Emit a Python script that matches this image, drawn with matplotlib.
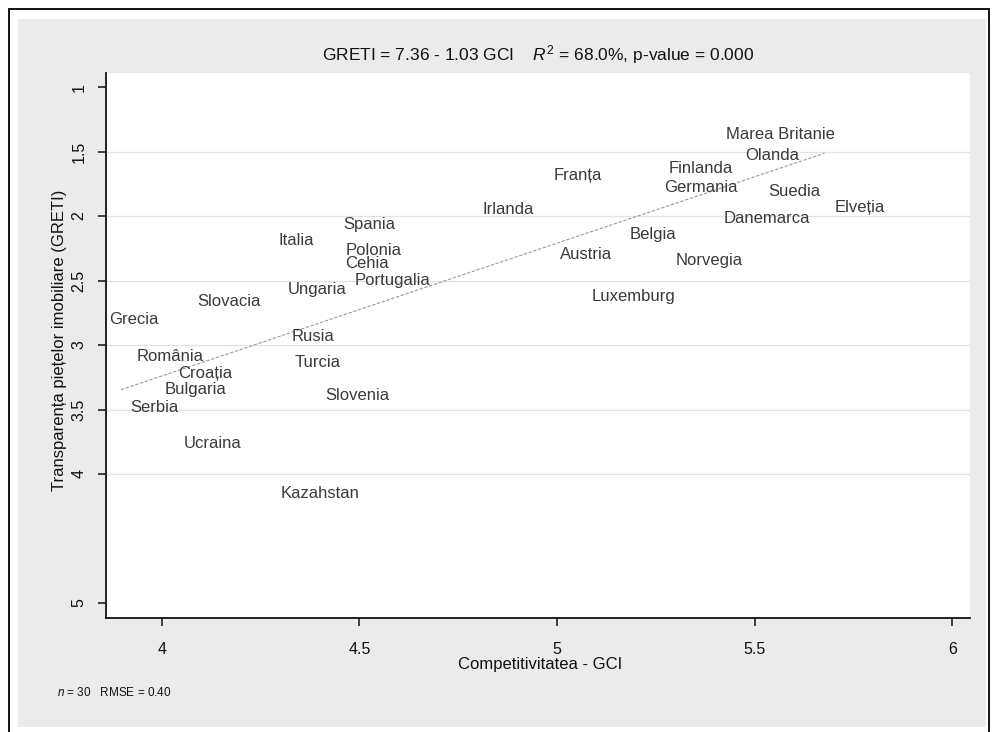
import numpy as np
import matplotlib.pyplot as plt
from matplotlib.patches import Rectangle

plt.rcParams['font.family'] = ['Liberation Sans', 'DejaVu Sans']
plt.rcParams['mathtext.fontset'] = 'custom'
plt.rcParams['mathtext.rm'] = 'Liberation Sans'
plt.rcParams['mathtext.it'] = 'Liberation Sans:italic'

# GCI (competitivitate) si GRETI (transparenta) pe tari
tari = ['Marea Britanie', 'Olanda', 'Franța', 'Finlanda', 'Germania', 'Suedia',
        'Elveția', 'Irlanda', 'Danemarca', 'Spania', 'Italia', 'Belgia',
        'Polonia', 'Austria', 'Cehia', 'Norvegia', 'Portugalia', 'Ungaria',
        'Luxemburg', 'Slovacia', 'Grecia', 'Rusia', 'România', 'Turcia',
        'Croația', 'Bulgaria', 'Slovenia', 'Serbia', 'Ucraina', 'Kazahstan']
gci = [5.403, 5.452, 4.967, 5.257, 5.246, 5.511,
       5.677, 4.788, 5.396, 4.434, 4.270, 5.158,
       4.441, 4.983, 4.439, 5.276, 4.464, 4.295,
       5.063, 4.066, 3.930, 4.305, 3.911, 4.312,
       4.017, 3.983, 4.390, 3.897, 4.032, 4.276]
greti = [1.364, 1.527, 1.682, 1.630, 1.781, 1.806,
         1.933, 1.948, 2.018, 2.062, 2.191, 2.142,
         2.264, 2.297, 2.367, 2.341, 2.502, 2.568,
         2.626, 2.664, 2.798, 2.936, 3.085, 3.134,
         3.219, 3.343, 3.395, 3.486, 3.762, 4.155]
# eticheta centrata pe punct (restul sunt la dreapta punctului)
centrate = ['Grecia']

const, panta = 7.36, -1.03
y_ticks = [1, 1.5, 2, 2.5, 3, 3.5, 4, 5]
y_grid = [1.5, 2, 2.5, 3, 3.5, 4]
x_ticks = [4, 4.5, 5, 5.5, 6]

W, H = 992, 732
fig = plt.figure(figsize=(W / 100, H / 100), dpi=100)
fig.patch.set_facecolor('white')

# chenar negru si fundalul gri al graficului
fig.add_artist(Rectangle((9 / W, -0.02), 980 / W, 1.02 - 9 / H, transform=fig.transFigure,
                         fill=False, edgecolor='black', lw=1.3, zorder=10))
fig.add_artist(Rectangle((18 / W, 5 / H), 968 / W, 1 - 24 / H, transform=fig.transFigure,
                         facecolor='#ebebeb', edgecolor='none', zorder=-5))

ax = fig.add_axes([106 / W, 1 - 618 / H, 864 / W, 545 / H])
ax.set_zorder(2)
ax.set_facecolor('white')
ax.set_xlim(3.859, 6.045)
ax.set_ylim(5.117, 0.89)

for s in ['top', 'right']:
    ax.spines[s].set_visible(False)
for s in ['left', 'bottom']:
    ax.spines[s].set_linewidth(1.3)
    ax.spines[s].set_color('#111111')

for g in y_grid:
    ax.axhline(g, color='#e2e2e2', lw=0.9, zorder=0)

ax.set_xticks(x_ticks)
ax.set_xticklabels([f'{v:g}' for v in x_ticks])
ax.set_yticks(y_ticks)
ax.set_yticklabels([f'{v:g}' for v in y_ticks], rotation=90, va='center')
ax.tick_params(axis='both', direction='out', length=6, width=1.1, labelsize=11.5,
               colors='#111111')
ax.tick_params(axis='x', pad=11)
ax.tick_params(axis='y', pad=8)

# dreapta de regresie pe intervalul datelor
xf = np.array([min(gci), max(gci)])
ax.plot(xf, const + panta * xf, color='#9a9a9a', lw=0.8, ls=(0, (3, 1.5)), zorder=1)

for nume, x, y in zip(tari, gci, greti):
    if nume in centrate:
        ax.text(x, y, nume, ha='center', va='center', fontsize=12, color='#3a3a3a')
    else:
        ax.annotate(nume, (x, y), xytext=(7, 0), textcoords='offset points',
                    ha='left', va='center', fontsize=12, color='#3a3a3a')

fig.text(538 / W, 1 - 55 / H,
         r'GRETI = 7.36 - 1.03 GCI    $R^2$ = 68.0%, p-value = 0.000',
         ha='center', va='center', fontsize=12.5, color='#111111')
fig.text(540 / W, 1 - 665 / H, 'Competitivitatea - GCI',
         ha='center', va='center', fontsize=12, color='#111111')
fig.text(60 / W, 1 - 340 / H, 'Transparența piețelor imobiliare (GRETI)',
         ha='center', va='center', rotation=90, fontsize=12, color='#111111')
fig.text(57 / W, 1 - 692 / H, r'$n$ = 30   RMSE = 0.40',
         ha='left', va='center', fontsize=8.5, color='#111111')

fig.savefig('out.png', dpi=100)
